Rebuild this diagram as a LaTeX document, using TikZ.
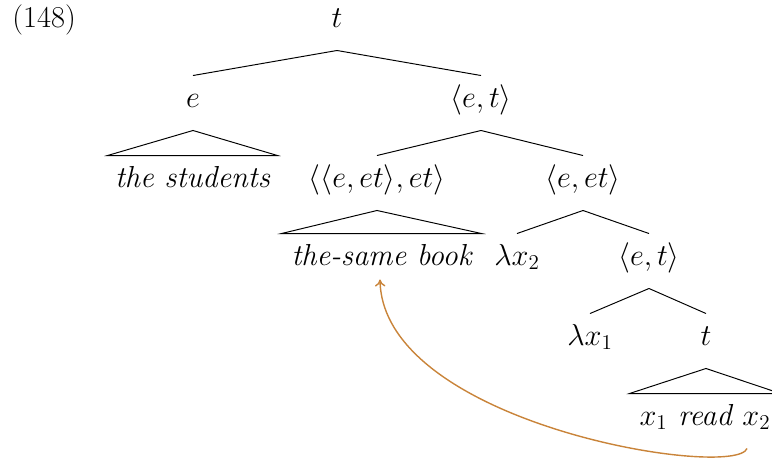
\documentclass[tikz,border=0pt]{standalone}
\usepackage{amsmath}
\usepackage{xcolor}
\usepackage{tikz}
\usetikzlibrary{calc, arrows.meta}
\definecolor{movecol}{RGB}{201,132,58}

\begin{document}
\begin{tikzpicture}[line width=0.55pt, font=\fontsize{17.28}{21}\selectfont,
    lab/.style={inner sep=0pt, minimum height=1.08cm,
                text height=1.6ex, text depth=0.5ex},
    leaf/.style={lab, font=\fontsize{17.28}{21}\selectfont\itshape},
    move/.style={draw=movecol, line width=0.8pt, -{To[length=4pt,width=6pt]}}]

    \useasboundingbox (0,0) rectangle (15.44,-9.26);

    \node[lab, anchor=west] (ex) at (0.24,-0.46) {(148)};

    \node[lab] (t0)   at (6.74,-0.46)  {$t$};
    \node[lab] (e)    at (3.86,-2.06)  {$e$};
    \node[lab] (et1)  at (9.62,-2.06)  {$\langle e,t\rangle$};
    \node[leaf, minimum width=3.38cm] (sts) at (3.85,-3.66) {the students};
    \node[lab] (eet)  at (7.54,-3.66)  {$\langle\langle e,et\rangle,et\rangle$};
    \node[lab] (eet2) at (11.66,-3.66) {$\langle e,et\rangle$};
    \node[leaf, minimum width=3.98cm] (tsb) at (7.63,-5.22) {the-same book};
    \node[lab] (lx2)  at (10.34,-5.22) {$\lambda x_2$};
    \node[lab] (et2)  at (12.98,-5.22) {$\langle e,t\rangle$};
    \node[lab] (lx1)  at (11.80,-6.82) {$\lambda x_1$};
    \node[lab] (t1)   at (14.12,-6.82) {$t$};
    \node[leaf, minimum width=3.0cm] (rd) at (14.10,-8.42)
      {$x_1$ read $x_2$};

    % branches
    \draw (t0.south) -- (e.north);
    \draw (t0.south) -- (et1.north);
    \draw (et1.south) -- (eet.north);
    \draw (et1.south) -- (eet2.north);
    \draw (eet2.south) -- (lx2.north);
    \draw (eet2.south) -- (et2.north);
    \draw (et2.south) -- (lx1.north);
    \draw (et2.south) -- (t1.north);

    % triangles
    \draw (e.south) -- (sts.north west) -- (sts.north east) -- cycle;
    \draw (eet.south) -- (tsb.north west) -- (tsb.north east) -- cycle;
    \draw (t1.south) -- (rd.north west) -- (rd.north east) -- cycle;

    % movement
    \coordinate (from) at ($(rd.south)+(0.84,0)$);
    \coordinate (to) at ($(tsb.south)+(-0.03,0.18)$);
    \draw[move] (from) .. controls (14.7,-9.6) and (7.66,-8.5) .. (to);
  \end{tikzpicture}
\end{document}
